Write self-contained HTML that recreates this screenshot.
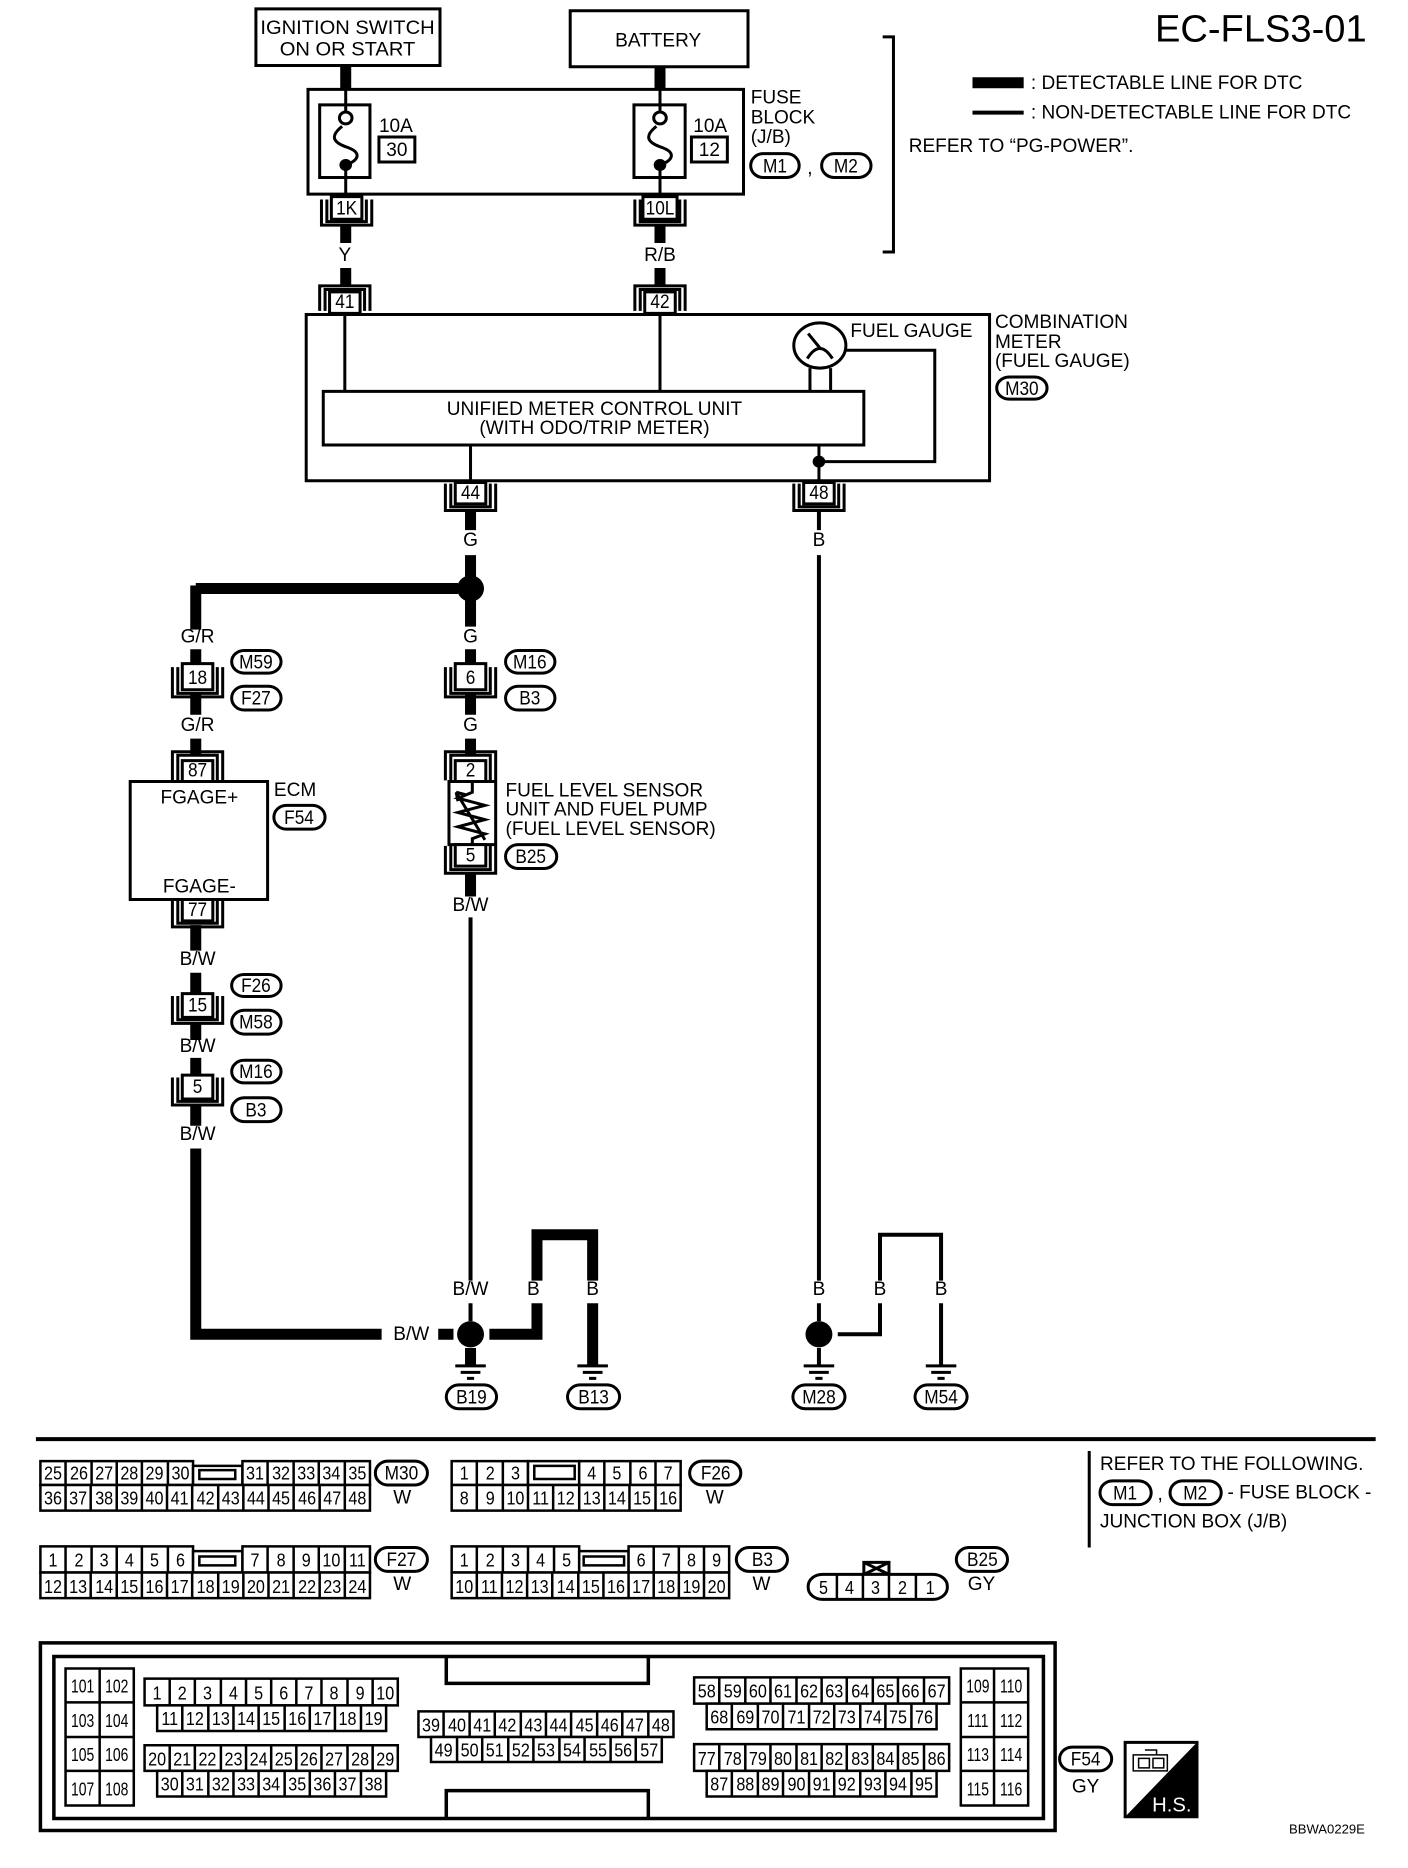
<!DOCTYPE html>
<html><head><meta charset="utf-8"><style>
html,body{margin:0;padding:0;background:#fff;width:1408px;height:1868px;overflow:hidden}
svg{display:block}
svg *{vector-effect:non-scaling-stroke}
.l{fill:none;stroke:#000;stroke-width:3}
.k{fill:none;stroke:#000;stroke-width:11}
.t{fill:none;stroke:#000;stroke-width:4}
.b{fill:#fff;stroke:#000;stroke-width:3}
.g{fill:#fff;stroke:#000;stroke-width:2.5}
.d{fill:#000}
text{font-family:"Liberation Sans",sans-serif;font-size:32px;fill:#000}
.n{font-size:31px}
.m{text-anchor:middle}.e{text-anchor:end}
</style></head><body>
<!-- TOP HALF -->
<svg width="1408" height="934" viewBox="0 0 1568 1568" preserveAspectRatio="none">
<rect class="b" x="285" y="15" width="205" height="95"/>
<text class="m" transform="translate(387 57) scale(.7 1)">IGNITION SWITCH</text>
<text class="m" transform="translate(387 93) scale(.7 1)">ON OR START</text>
<rect class="b" x="635" y="18" width="198" height="94"/>
<text class="m" transform="translate(733 78) scale(.663 1)">BATTERY</text>
<path class="k" d="M385 110V150M735 112V150"/>
<rect class="b" x="343" y="150" width="485" height="176"/>
<rect class="b" x="356" y="176" width="56" height="122"/>
<rect class="b" x="706" y="176" width="57" height="122"/>
<path class="l" d="M385 150V188M385 276V332M735 150V188M735 276V332"/>
<path class="l" d="M381 212C366 230 372 240 388 248C402 256 400 268 387 276M731 212C716 230 722 240 738 248C752 256 750 268 737 276"/>
<ellipse class="b" cx="385" cy="198" rx="7" ry="10"/><ellipse class="b" cx="735" cy="198" rx="7" ry="10"/>
<ellipse class="d" cx="385" cy="277" rx="7" ry="10"/><ellipse class="d" cx="735" cy="277" rx="7" ry="10"/>
<text transform="translate(422 222) scale(.663 1)">10A</text>
<rect class="b" x="422" y="230" width="40" height="42"/>
<text class="m" transform="translate(442 262) scale(.663 1)">30</text>
<text transform="translate(772 222) scale(.663 1)">10A</text>
<rect class="b" x="770" y="230" width="40" height="42"/>
<text class="m" transform="translate(790 262) scale(.663 1)">12</text>
<text transform="translate(836 174) scale(.663 1)">FUSE</text>
<text transform="translate(836 207) scale(.663 1)">BLOCK</text>
<text transform="translate(836 240) scale(.663 1)">(J/B)</text>
<rect class="b" x="836" y="258" width="54" height="40" rx="14" ry="20"/>
<text class="m" transform="translate(863 290) scale(.6 1)">M1</text>
<text transform="translate(899 292) scale(.663 1)">,</text>
<rect class="b" x="915" y="258" width="55" height="40" rx="14" ry="20"/>
<text class="m" transform="translate(942 290) scale(.6 1)">M2</text>
<path class="l" d="M983 62H995V423H983"/>
<text class="e" style="font-size:64px" transform="translate(1522 70) scale(.663 1)">EC-FLS3-01</text>
<path class="k" d="M1083 139H1140"/>
<text transform="translate(1148 149) scale(.663 1)">: DETECTABLE LINE FOR DTC</text>
<path class="t" d="M1083 189H1140"/>
<text transform="translate(1148 199) scale(.663 1)">: NON-DETECTABLE LINE FOR DTC</text>
<text transform="translate(1012 255) scale(.663 1)">REFER TO “PG-POWER”.</text>
<!-- 1K / 10L -->
<rect class="b" x="369" y="330" width="34" height="38"/><path class="l" d="M358 335V378H414V335M364 335V372H408V335"/>
<text class="m" transform="translate(386 360) scale(.6 1)">1K</text>
<rect class="b" x="716" y="330" width="38" height="38"/><path class="l" d="M707 335V378H763V335M713 335V372H757V335"/>
<text class="m" transform="translate(735 360) scale(.6 1)">10L</text>
<path class="k" d="M385 378V408M385 450V480M735 378V408M735 450V480"/>
<text class="m" transform="translate(384 438) scale(.663 1)">Y</text>
<text class="m" transform="translate(735 438) scale(.663 1)">R/B</text>
<!-- 41 / 42 -->
<rect class="b" x="367" y="490" width="34" height="36"/><path class="l" d="M356 522V480H412V522M362 522V486H406V522"/>
<text class="m" transform="translate(384 517) scale(.6 1)">41</text>
<rect class="b" x="718" y="490" width="34" height="36"/><path class="l" d="M707 522V480H763V522M713 522V486H757V522"/>
<text class="m" transform="translate(735 517) scale(.6 1)">42</text>
<!-- meter -->
<rect class="l" x="341" y="528" width="761" height="279"/>
<path class="l" d="M384 528V657M735 528V657M524 747V807M912 747V807M902 618V657M925 618V657M941 588H1041V775H912"/>
<rect class="b" x="360" y="657" width="602" height="90"/>
<text class="m" transform="translate(662 697) scale(.663 1)">UNIFIED METER CONTROL UNIT</text>
<text class="m" transform="translate(662 729) scale(.663 1)">(WITH ODO/TRIP METER)</text>
<ellipse class="b" cx="913" cy="580" rx="29" ry="38"/>
<path class="l" d="M899 602Q913 568 927 602M913 584L900 560"/>
<ellipse class="d" cx="912" cy="775" rx="7" ry="10"/>
<text transform="translate(947 566) scale(.663 1)">FUEL GAUGE</text>
<text transform="translate(1108 551) scale(.663 1)">COMBINATION</text>
<text transform="translate(1108 584) scale(.663 1)">METER</text>
<text transform="translate(1108 616) scale(.663 1)">(FUEL GAUGE)</text>
<rect class="b" x="1110" y="633" width="56" height="37" rx="14" ry="18"/>
<text class="m" transform="translate(1138 663) scale(.6 1)">M30</text>
<!-- 44 / 48 -->
<rect class="b" x="507" y="810" width="34" height="36"/><path class="l" d="M496 812V857H552V812M502 812V851H546V812"/>
<text class="m" transform="translate(524 838) scale(.6 1)">44</text>
<rect class="b" x="895" y="810" width="34" height="36"/><path class="l" d="M884 812V857H940V812M890 812V851H934V812"/>
<text class="m" transform="translate(912 838) scale(.6 1)">48</text>
<path class="k" d="M524 857V890M524 932V972M524 1004V1052M218 988H510M218 983V1057M218 1090V1114M218 1166V1200M218 1240V1270M524 1090V1114M524 1166V1200M524 1240V1270M524 1466V1505M218 1553V1568"/>
<path class="t" d="M912 857V890M912 932V1568M524 1540V1568"/>
<text class="m" transform="translate(524 917) scale(.663 1)">G</text>
<text class="m" transform="translate(912 917) scale(.663 1)">B</text>
<ellipse class="d" cx="524" cy="988" rx="15" ry="22"/>
<text class="m" transform="translate(220 1079) scale(.663 1)">G/R</text>
<text class="m" transform="translate(524 1079) scale(.663 1)">G</text>
<text class="m" transform="translate(220 1227) scale(.663 1)">G/R</text>
<text class="m" transform="translate(524 1227) scale(.663 1)">G</text>
<!-- 18 / 6 -->
<rect class="b" x="203" y="1114" width="34" height="44"/><path class="l" d="M192 1120V1170H248V1120M198 1120V1164H242V1120"/>
<text class="m" transform="translate(220 1148) scale(.6 1)">18</text>
<rect class="b" x="507" y="1114" width="34" height="44"/><path class="l" d="M496 1120V1170H552V1120M502 1120V1164H546V1120"/>
<text class="m" transform="translate(524 1148) scale(.6 1)">6</text>
<rect class="b" x="258" y="1092" width="55" height="38" rx="14" ry="19"/><text class="m" transform="translate(285 1122) scale(.6 1)">M59</text>
<rect class="b" x="258" y="1152" width="55" height="40" rx="14" ry="20"/><text class="m" transform="translate(285 1183) scale(.6 1)">F27</text>
<rect class="b" x="563" y="1092" width="55" height="38" rx="14" ry="19"/><text class="m" transform="translate(590 1122) scale(.6 1)">M16</text>
<rect class="b" x="563" y="1152" width="55" height="40" rx="14" ry="20"/><text class="m" transform="translate(590 1183) scale(.6 1)">B3</text>
<!-- 87 ECM -->
<rect class="b" x="203" y="1277" width="34" height="35"/><path class="l" d="M192 1310V1262H248V1310M198 1310V1268H242V1310"/>
<text class="m" transform="translate(220 1304) scale(.6 1)">87</text>
<rect class="b" x="145" y="1312" width="153" height="198"/>
<text class="m" transform="translate(222 1349) scale(.663 1)">FGAGE+</text>
<text class="m" transform="translate(222 1498) scale(.663 1)">FGAGE-</text>
<text transform="translate(305 1336) scale(.663 1)">ECM</text>
<rect class="b" x="305" y="1352" width="57" height="40" rx="14" ry="20"/><text class="m" transform="translate(333 1383) scale(.6 1)">F54</text>
<rect class="b" x="203" y="1510" width="34" height="36"/><path class="l" d="M192 1512V1556H248V1512M198 1512V1550H242V1512"/>
<text class="m" transform="translate(220 1538) scale(.6 1)">77</text>
<!-- sensor -->
<rect class="b" x="507" y="1277" width="34" height="35"/><path class="l" d="M496 1310V1262H552V1310M502 1310V1268H546V1310"/>
<text class="m" transform="translate(524 1304) scale(.6 1)">2</text>
<rect class="b" x="500" y="1312" width="52" height="106"/>
<path class="l" d="M526 1312V1330L510 1340L540 1352L510 1364L540 1376L510 1388L540 1400L526 1408V1418M508 1330L540 1410M508 1330L510 1345M508 1330L518 1334"/>
<rect class="b" x="507" y="1418" width="34" height="36"/><path class="l" d="M496 1420V1466H552V1420M502 1420V1460H546V1420"/>
<text class="m" transform="translate(524 1446) scale(.6 1)">5</text>
<rect class="b" x="563" y="1418" width="57" height="40" rx="14" ry="20"/><text class="m" transform="translate(591 1449) scale(.6 1)">B25</text>
<text transform="translate(563 1337) scale(.663 1)">FUEL LEVEL SENSOR</text>
<text transform="translate(563 1369) scale(.663 1)">UNIT AND FUEL PUMP</text>
<text transform="translate(563 1402) scale(.663 1)">(FUEL LEVEL SENSOR)</text>
<text class="m" transform="translate(524 1529) scale(.663 1)">B/W</text>
</svg>
<!-- BOTTOM HALF -->
<svg width="1408" height="934" viewBox="0 0 1568 1568" preserveAspectRatio="none">
<path class="k" d="M218 0V28M218 65V100M218 150V178M218 208V237M218 287V322M218 360V672H425M488 672H505M545 672H598V620M598 582V505H660V582M660 620V725M524 695V725"/>
<path class="t" d="M524 0V582M524 620V650M912 0V582M912 620V650M933 672H980V620M980 582V505H1048V582M1048 620V725M912 695V725"/>
<text class="m" transform="translate(220 52) scale(.663 1)">B/W</text>
<text class="m" transform="translate(220 198) scale(.663 1)">B/W</text>
<text class="m" transform="translate(220 346) scale(.663 1)">B/W</text>
<rect class="b" x="203" y="100" width="34" height="40"/><path class="l" d="M192 104V150H248V104M198 104V144H242V104"/>
<text class="m" transform="translate(220 130) scale(.6 1)">15</text>
<rect class="b" x="203" y="237" width="34" height="40"/><path class="l" d="M192 241V287H248V241M198 241V281H242V241"/>
<text class="m" transform="translate(220 267) scale(.6 1)">5</text>
<rect class="b" x="258" y="68" width="55" height="37" rx="14" ry="18"/><text class="m" transform="translate(285 97) scale(.6 1)">F26</text>
<rect class="b" x="258" y="128" width="55" height="40" rx="14" ry="20"/><text class="m" transform="translate(285 159) scale(.6 1)">M58</text>
<rect class="b" x="258" y="212" width="55" height="38" rx="14" ry="19"/><text class="m" transform="translate(285 242) scale(.6 1)">M16</text>
<rect class="b" x="258" y="275" width="55" height="40" rx="14" ry="20"/><text class="m" transform="translate(285 306) scale(.6 1)">B3</text>
<text class="m" transform="translate(458 682) scale(.663 1)">B/W</text>
<text class="m" transform="translate(524 606) scale(.663 1)">B/W</text>
<text class="m" transform="translate(594 606) scale(.663 1)">B</text>
<text class="m" transform="translate(660 606) scale(.663 1)">B</text>
<text class="m" transform="translate(912 606) scale(.663 1)">B</text>
<text class="m" transform="translate(980 606) scale(.663 1)">B</text>
<text class="m" transform="translate(1048 606) scale(.663 1)">B</text>
<ellipse class="d" cx="524" cy="672" rx="15" ry="22"/>
<ellipse class="d" cx="912" cy="672" rx="15" ry="22"/>
<path class="l" d="M507 725H541M513 736H535M520 746H528M643 725H677M649 736H671M656 746H664M895 725H929M901 736H923M908 746H916M1031 725H1065M1037 736H1059M1044 746H1052"/>
<rect class="b" x="497" y="757" width="56" height="40" rx="14" ry="20"/><text class="m" transform="translate(525 788) scale(.6 1)">B19</text>
<rect class="b" x="632" y="757" width="58" height="40" rx="14" ry="20"/><text class="m" transform="translate(661 788) scale(.6 1)">B13</text>
<rect class="b" x="883" y="757" width="58" height="40" rx="14" ry="20"/><text class="m" transform="translate(912 788) scale(.6 1)">M28</text>
<rect class="b" x="1019" y="757" width="58" height="40" rx="14" ry="20"/><text class="m" transform="translate(1048 788) scale(.6 1)">M54</text>
<path class="t" d="M40 848H1532"/>
<path class="l" d="M1213 868V1030"/>
<text transform="translate(1225 900) scale(.663 1)">REFER TO THE FOLLOWING.</text>
<rect class="b" x="1225" y="918" width="57" height="40" rx="14" ry="20"/><text class="m" transform="translate(1253 949) scale(.6 1)">M1</text>
<text transform="translate(1289 950) scale(.663 1)">,</text>
<rect class="b" x="1303" y="918" width="57" height="40" rx="14" ry="20"/><text class="m" transform="translate(1331 949) scale(.6 1)">M2</text>
<text transform="translate(1367 948) scale(.663 1)">- FUSE BLOCK -</text>
<text transform="translate(1225 996) scale(.663 1)">JUNCTION BOX (J/B)</text>
<!-- M30 -->
<g class="g"><rect x="45" y="885" width="170" height="40"/><rect x="215" y="893" width="55" height="32"/><rect x="270" y="885" width="142" height="40"/><rect x="45" y="925" width="367" height="43"/><rect x="222" y="900" width="40" height="15"/></g>
<path class="l" style="stroke-width:2.5" d="M73 885V925M102 885V925M130 885V925M158 885V925M187 885V925M298 885V925M327 885V925M355 885V925M384 885V925M73 925V968M101 925V968M130 925V968M158 925V968M186 925V968M214 925V968M243 925V968M271 925V968M299 925V968M327 925V968M356 925V968M384 925V968"/>
<text class="m n" transform="translate(59 916) scale(.58 1)">25</text><text class="m n" transform="translate(88 916) scale(.58 1)">26</text><text class="m n" transform="translate(116 916) scale(.58 1)">27</text><text class="m n" transform="translate(144 916) scale(.58 1)">28</text><text class="m n" transform="translate(172 916) scale(.58 1)">29</text><text class="m n" transform="translate(201 916) scale(.58 1)">30</text><text class="m n" transform="translate(284 916) scale(.58 1)">31</text><text class="m n" transform="translate(313 916) scale(.58 1)">32</text><text class="m n" transform="translate(341 916) scale(.58 1)">33</text><text class="m n" transform="translate(369 916) scale(.58 1)">34</text><text class="m n" transform="translate(398 916) scale(.58 1)">35</text>
<text class="m n" transform="translate(59 958) scale(.58 1)">36</text><text class="m n" transform="translate(87 958) scale(.58 1)">37</text><text class="m n" transform="translate(116 958) scale(.58 1)">38</text><text class="m n" transform="translate(144 958) scale(.58 1)">39</text><text class="m n" transform="translate(172 958) scale(.58 1)">40</text><text class="m n" transform="translate(200 958) scale(.58 1)">41</text><text class="m n" transform="translate(229 958) scale(.58 1)">42</text><text class="m n" transform="translate(257 958) scale(.58 1)">43</text><text class="m n" transform="translate(285 958) scale(.58 1)">44</text><text class="m n" transform="translate(313 958) scale(.58 1)">45</text><text class="m n" transform="translate(342 958) scale(.58 1)">46</text><text class="m n" transform="translate(370 958) scale(.58 1)">47</text><text class="m n" transform="translate(398 958) scale(.58 1)">48</text>
<rect class="b" x="418" y="885" width="58" height="40" rx="14" ry="20"/><text class="m" transform="translate(447 916) scale(.6 1)">M30</text>
<text class="m" transform="translate(448 956) scale(.663 1)">W</text>
<!-- F26 -->
<g class="g"><rect x="503" y="885" width="85" height="40"/><rect x="588" y="885" width="57" height="40"/><rect x="645" y="885" width="113" height="40"/><rect x="503" y="925" width="255" height="43"/><rect x="595" y="893" width="45" height="22"/></g>
<path class="l" style="stroke-width:2.5" d="M531 885V925M560 885V925M673 885V925M702 885V925M730 885V925M531 925V968M560 925V968M588 925V968M616 925V968M645 925V968M673 925V968M701 925V968M730 925V968"/>
<text class="m n" transform="translate(517 916) scale(.58 1)">1</text><text class="m n" transform="translate(546 916) scale(.58 1)">2</text><text class="m n" transform="translate(574 916) scale(.58 1)">3</text><text class="m n" transform="translate(659 916) scale(.58 1)">4</text><text class="m n" transform="translate(687 916) scale(.58 1)">5</text><text class="m n" transform="translate(716 916) scale(.58 1)">6</text><text class="m n" transform="translate(744 916) scale(.58 1)">7</text>
<text class="m n" transform="translate(517 958) scale(.58 1)">8</text><text class="m n" transform="translate(546 958) scale(.58 1)">9</text><text class="m n" transform="translate(574 958) scale(.58 1)">10</text><text class="m n" transform="translate(602 958) scale(.58 1)">11</text><text class="m n" transform="translate(630 958) scale(.58 1)">12</text><text class="m n" transform="translate(659 958) scale(.58 1)">13</text><text class="m n" transform="translate(687 958) scale(.58 1)">14</text><text class="m n" transform="translate(715 958) scale(.58 1)">15</text><text class="m n" transform="translate(744 958) scale(.58 1)">16</text>
<rect class="b" x="768" y="885" width="57" height="40" rx="14" ry="20"/><text class="m" transform="translate(797 916) scale(.6 1)">F26</text>
<text class="m" transform="translate(796 956) scale(.663 1)">W</text>
<!-- F27 -->
<g class="g"><rect x="45" y="1028" width="170" height="44"/><rect x="215" y="1036" width="55" height="36"/><rect x="270" y="1028" width="142" height="44"/><rect x="45" y="1072" width="367" height="43"/><rect x="222" y="1045" width="40" height="15"/></g>
<path class="l" style="stroke-width:2.5" d="M73 1028V1072M102 1028V1072M130 1028V1072M158 1028V1072M187 1028V1072M298 1028V1072M327 1028V1072M355 1028V1072M384 1028V1072M73 1072V1115M101 1072V1115M130 1072V1115M158 1072V1115M186 1072V1115M214 1072V1115M243 1072V1115M271 1072V1115M299 1072V1115M327 1072V1115M356 1072V1115M384 1072V1115"/>
<text class="m n" transform="translate(59 1062) scale(.58 1)">1</text><text class="m n" transform="translate(88 1062) scale(.58 1)">2</text><text class="m n" transform="translate(116 1062) scale(.58 1)">3</text><text class="m n" transform="translate(144 1062) scale(.58 1)">4</text><text class="m n" transform="translate(172 1062) scale(.58 1)">5</text><text class="m n" transform="translate(201 1062) scale(.58 1)">6</text><text class="m n" transform="translate(284 1062) scale(.58 1)">7</text><text class="m n" transform="translate(313 1062) scale(.58 1)">8</text><text class="m n" transform="translate(341 1062) scale(.58 1)">9</text><text class="m n" transform="translate(369 1062) scale(.58 1)">10</text><text class="m n" transform="translate(398 1062) scale(.58 1)">11</text>
<text class="m n" transform="translate(59 1106) scale(.58 1)">12</text><text class="m n" transform="translate(87 1106) scale(.58 1)">13</text><text class="m n" transform="translate(116 1106) scale(.58 1)">14</text><text class="m n" transform="translate(144 1106) scale(.58 1)">15</text><text class="m n" transform="translate(172 1106) scale(.58 1)">16</text><text class="m n" transform="translate(200 1106) scale(.58 1)">17</text><text class="m n" transform="translate(229 1106) scale(.58 1)">18</text><text class="m n" transform="translate(257 1106) scale(.58 1)">19</text><text class="m n" transform="translate(285 1106) scale(.58 1)">20</text><text class="m n" transform="translate(313 1106) scale(.58 1)">21</text><text class="m n" transform="translate(342 1106) scale(.58 1)">22</text><text class="m n" transform="translate(370 1106) scale(.58 1)">23</text><text class="m n" transform="translate(398 1106) scale(.58 1)">24</text>
<rect class="b" x="418" y="1030" width="58" height="40" rx="14" ry="20"/><text class="m" transform="translate(447 1061) scale(.6 1)">F27</text>
<text class="m" transform="translate(448 1101) scale(.663 1)">W</text>
<!-- B3 -->
<g class="g"><rect x="503" y="1028" width="142" height="44"/><rect x="645" y="1036" width="55" height="36"/><rect x="700" y="1028" width="112" height="44"/><rect x="503" y="1072" width="309" height="43"/><rect x="650" y="1045" width="45" height="15"/></g>
<path class="l" style="stroke-width:2.5" d="M531 1028V1072M560 1028V1072M588 1028V1072M617 1028V1072M728 1028V1072M756 1028V1072M784 1028V1072M531 1072V1115M559 1072V1115M587 1072V1115M615 1072V1115M644 1072V1115M672 1072V1115M700 1072V1115M728 1072V1115M756 1072V1115M784 1072V1115"/>
<text class="m n" transform="translate(517 1062) scale(.58 1)">1</text><text class="m n" transform="translate(546 1062) scale(.58 1)">2</text><text class="m n" transform="translate(574 1062) scale(.58 1)">3</text><text class="m n" transform="translate(602 1062) scale(.58 1)">4</text><text class="m n" transform="translate(631 1062) scale(.58 1)">5</text><text class="m n" transform="translate(714 1062) scale(.58 1)">6</text><text class="m n" transform="translate(742 1062) scale(.58 1)">7</text><text class="m n" transform="translate(770 1062) scale(.58 1)">8</text><text class="m n" transform="translate(798 1062) scale(.58 1)">9</text>
<text class="m n" transform="translate(517 1106) scale(.58 1)">10</text><text class="m n" transform="translate(545 1106) scale(.58 1)">11</text><text class="m n" transform="translate(573 1106) scale(.58 1)">12</text><text class="m n" transform="translate(601 1106) scale(.58 1)">13</text><text class="m n" transform="translate(630 1106) scale(.58 1)">14</text><text class="m n" transform="translate(658 1106) scale(.58 1)">15</text><text class="m n" transform="translate(686 1106) scale(.58 1)">16</text><text class="m n" transform="translate(714 1106) scale(.58 1)">17</text><text class="m n" transform="translate(742 1106) scale(.58 1)">18</text><text class="m n" transform="translate(770 1106) scale(.58 1)">19</text><text class="m n" transform="translate(798 1106) scale(.58 1)">20</text>
<rect class="b" x="820" y="1030" width="57" height="40" rx="14" ry="20"/><text class="m" transform="translate(849 1061) scale(.6 1)">B3</text>
<text class="m" transform="translate(848 1101) scale(.663 1)">W</text>
<!-- B25 -->
<rect class="b" x="962" y="1055" width="28" height="20"/><path class="l" d="M962 1055L990 1075M990 1055L962 1075"/>
<rect class="b" x="900" y="1075" width="155" height="42" rx="16" ry="20"/>
<path class="l" style="stroke-width:2.5" d="M932 1075V1117M961 1075V1117M990 1075V1117M1020 1075V1117"/>
<text class="m n" transform="translate(917 1108) scale(.58 1)">5</text><text class="m n" transform="translate(946 1108) scale(.58 1)">4</text><text class="m n" transform="translate(975 1108) scale(.58 1)">3</text><text class="m n" transform="translate(1005 1108) scale(.58 1)">2</text><text class="m n" transform="translate(1036 1108) scale(.58 1)">1</text>
<rect class="b" x="1065" y="1030" width="57" height="40" rx="14" ry="20"/><text class="m" transform="translate(1094 1061) scale(.6 1)">B25</text>
<text class="m" transform="translate(1093 1101) scale(.663 1)">GY</text>
<!-- F54 -->
<rect class="l" x="45" y="1190" width="1130" height="315" style="stroke-width:3.5"/>
<rect class="l" x="60" y="1213" width="1102" height="272" style="stroke-width:3.5"/>
<path class="l" style="stroke-width:3.5" d="M497 1213V1258H722V1213M497 1485V1438H722V1485"/>
<g class="g"><rect x="73" y="1233" width="76" height="230"/><rect x="1070" y="1233" width="75" height="230"/>
<rect x="161" y="1250" width="282" height="45"/><rect x="175" y="1295" width="255" height="43"/>
<rect x="161" y="1362" width="282" height="43"/><rect x="175" y="1405" width="255" height="43"/>
<rect x="466" y="1305" width="284" height="43"/><rect x="480" y="1348" width="257" height="42"/>
<rect x="773" y="1248" width="284" height="44"/><rect x="787" y="1292" width="256" height="43"/>
<rect x="773" y="1360" width="284" height="45"/><rect x="787" y="1405" width="256" height="43"/></g>
<path class="l" style="stroke-width:2.5" d="M111 1233V1463M73 1290H149M73 1348H149M73 1405H149M1107 1233V1463M1070 1290H1145M1070 1348H1145M1070 1405H1145
M189 1250V1295M217 1250V1295M246 1250V1295M274 1250V1295M302 1250V1295M330 1250V1295M358 1250V1295M387 1250V1295M415 1250V1295
M203 1295V1338M232 1295V1338M260 1295V1338M288 1295V1338M317 1295V1338M345 1295V1338M373 1295V1338M402 1295V1338
M189 1362V1405M217 1362V1405M246 1362V1405M274 1362V1405M302 1362V1405M330 1362V1405M358 1362V1405M387 1362V1405M415 1362V1405
M203 1405V1448M232 1405V1448M260 1405V1448M288 1405V1448M317 1405V1448M345 1405V1448M373 1405V1448M402 1405V1448
M494 1305V1348M523 1305V1348M551 1305V1348M580 1305V1348M608 1305V1348M636 1305V1348M665 1305V1348M693 1305V1348M722 1305V1348
M509 1348V1390M537 1348V1390M566 1348V1390M594 1348V1390M623 1348V1390M651 1348V1390M680 1348V1390M708 1348V1390
M801 1248V1292M830 1248V1292M858 1248V1292M887 1248V1292M915 1248V1292M943 1248V1292M972 1248V1292M1000 1248V1292M1029 1248V1292
M815 1292V1335M844 1292V1335M872 1292V1335M901 1292V1335M929 1292V1335M958 1292V1335M986 1292V1335M1015 1292V1335
M801 1360V1405M830 1360V1405M858 1360V1405M887 1360V1405M915 1360V1405M943 1360V1405M972 1360V1405M1000 1360V1405M1029 1360V1405
M815 1405V1448M844 1405V1448M872 1405V1448M901 1405V1448M929 1405V1448M958 1405V1448M986 1405V1448M1015 1405V1448"/>
<text class="m n" transform="translate(92 1273) scale(.5 1)">101</text><text class="m n" transform="translate(130 1273) scale(.5 1)">102</text>
<text class="m n" transform="translate(92 1331) scale(.5 1)">103</text><text class="m n" transform="translate(130 1331) scale(.5 1)">104</text>
<text class="m n" transform="translate(92 1388) scale(.5 1)">105</text><text class="m n" transform="translate(130 1388) scale(.5 1)">106</text>
<text class="m n" transform="translate(92 1446) scale(.5 1)">107</text><text class="m n" transform="translate(130 1446) scale(.5 1)">108</text>
<text class="m n" transform="translate(1089 1273) scale(.5 1)">109</text><text class="m n" transform="translate(1126 1273) scale(.5 1)">110</text>
<text class="m n" transform="translate(1089 1331) scale(.5 1)">111</text><text class="m n" transform="translate(1126 1331) scale(.5 1)">112</text>
<text class="m n" transform="translate(1089 1388) scale(.5 1)">113</text><text class="m n" transform="translate(1126 1388) scale(.5 1)">114</text>
<text class="m n" transform="translate(1089 1446) scale(.5 1)">115</text><text class="m n" transform="translate(1126 1446) scale(.5 1)">116</text>
<text class="m n" transform="translate(175 1285) scale(.58 1)">1</text><text class="m n" transform="translate(203 1285) scale(.58 1)">2</text><text class="m n" transform="translate(231 1285) scale(.58 1)">3</text><text class="m n" transform="translate(260 1285) scale(.58 1)">4</text><text class="m n" transform="translate(288 1285) scale(.58 1)">5</text><text class="m n" transform="translate(316 1285) scale(.58 1)">6</text><text class="m n" transform="translate(344 1285) scale(.58 1)">7</text><text class="m n" transform="translate(372 1285) scale(.58 1)">8</text><text class="m n" transform="translate(401 1285) scale(.58 1)">9</text><text class="m n" transform="translate(429 1285) scale(.58 1)">10</text>
<text class="m n" transform="translate(189 1328) scale(.58 1)">11</text><text class="m n" transform="translate(217 1328) scale(.58 1)">12</text><text class="m n" transform="translate(246 1328) scale(.58 1)">13</text><text class="m n" transform="translate(274 1328) scale(.58 1)">14</text><text class="m n" transform="translate(302 1328) scale(.58 1)">15</text><text class="m n" transform="translate(331 1328) scale(.58 1)">16</text><text class="m n" transform="translate(359 1328) scale(.58 1)">17</text><text class="m n" transform="translate(387 1328) scale(.58 1)">18</text><text class="m n" transform="translate(416 1328) scale(.58 1)">19</text>
<text class="m n" transform="translate(175 1396) scale(.58 1)">20</text><text class="m n" transform="translate(203 1396) scale(.58 1)">21</text><text class="m n" transform="translate(231 1396) scale(.58 1)">22</text><text class="m n" transform="translate(260 1396) scale(.58 1)">23</text><text class="m n" transform="translate(288 1396) scale(.58 1)">24</text><text class="m n" transform="translate(316 1396) scale(.58 1)">25</text><text class="m n" transform="translate(344 1396) scale(.58 1)">26</text><text class="m n" transform="translate(372 1396) scale(.58 1)">27</text><text class="m n" transform="translate(401 1396) scale(.58 1)">28</text><text class="m n" transform="translate(429 1396) scale(.58 1)">29</text>
<text class="m n" transform="translate(189 1438) scale(.58 1)">30</text><text class="m n" transform="translate(217 1438) scale(.58 1)">31</text><text class="m n" transform="translate(246 1438) scale(.58 1)">32</text><text class="m n" transform="translate(274 1438) scale(.58 1)">33</text><text class="m n" transform="translate(302 1438) scale(.58 1)">34</text><text class="m n" transform="translate(331 1438) scale(.58 1)">35</text><text class="m n" transform="translate(359 1438) scale(.58 1)">36</text><text class="m n" transform="translate(387 1438) scale(.58 1)">37</text><text class="m n" transform="translate(416 1438) scale(.58 1)">38</text>
<text class="m n" transform="translate(480 1339) scale(.58 1)">39</text><text class="m n" transform="translate(509 1339) scale(.58 1)">40</text><text class="m n" transform="translate(537 1339) scale(.58 1)">41</text><text class="m n" transform="translate(565 1339) scale(.58 1)">42</text><text class="m n" transform="translate(594 1339) scale(.58 1)">43</text><text class="m n" transform="translate(622 1339) scale(.58 1)">44</text><text class="m n" transform="translate(651 1339) scale(.58 1)">45</text><text class="m n" transform="translate(679 1339) scale(.58 1)">46</text><text class="m n" transform="translate(707 1339) scale(.58 1)">47</text><text class="m n" transform="translate(736 1339) scale(.58 1)">48</text>
<text class="m n" transform="translate(494 1381) scale(.58 1)">49</text><text class="m n" transform="translate(523 1381) scale(.58 1)">50</text><text class="m n" transform="translate(551 1381) scale(.58 1)">51</text><text class="m n" transform="translate(580 1381) scale(.58 1)">52</text><text class="m n" transform="translate(608 1381) scale(.58 1)">53</text><text class="m n" transform="translate(637 1381) scale(.58 1)">54</text><text class="m n" transform="translate(666 1381) scale(.58 1)">55</text><text class="m n" transform="translate(694 1381) scale(.58 1)">56</text><text class="m n" transform="translate(723 1381) scale(.58 1)">57</text>
<text class="m n" transform="translate(787 1282) scale(.58 1)">58</text><text class="m n" transform="translate(816 1282) scale(.58 1)">59</text><text class="m n" transform="translate(844 1282) scale(.58 1)">60</text><text class="m n" transform="translate(872 1282) scale(.58 1)">61</text><text class="m n" transform="translate(901 1282) scale(.58 1)">62</text><text class="m n" transform="translate(929 1282) scale(.58 1)">63</text><text class="m n" transform="translate(958 1282) scale(.58 1)">64</text><text class="m n" transform="translate(986 1282) scale(.58 1)">65</text><text class="m n" transform="translate(1014 1282) scale(.58 1)">66</text><text class="m n" transform="translate(1043 1282) scale(.58 1)">67</text>
<text class="m n" transform="translate(801 1325) scale(.58 1)">68</text><text class="m n" transform="translate(830 1325) scale(.58 1)">69</text><text class="m n" transform="translate(858 1325) scale(.58 1)">70</text><text class="m n" transform="translate(887 1325) scale(.58 1)">71</text><text class="m n" transform="translate(915 1325) scale(.58 1)">72</text><text class="m n" transform="translate(943 1325) scale(.58 1)">73</text><text class="m n" transform="translate(972 1325) scale(.58 1)">74</text><text class="m n" transform="translate(1000 1325) scale(.58 1)">75</text><text class="m n" transform="translate(1029 1325) scale(.58 1)">76</text>
<text class="m n" transform="translate(787 1395) scale(.58 1)">77</text><text class="m n" transform="translate(816 1395) scale(.58 1)">78</text><text class="m n" transform="translate(844 1395) scale(.58 1)">79</text><text class="m n" transform="translate(872 1395) scale(.58 1)">80</text><text class="m n" transform="translate(901 1395) scale(.58 1)">81</text><text class="m n" transform="translate(929 1395) scale(.58 1)">82</text><text class="m n" transform="translate(958 1395) scale(.58 1)">83</text><text class="m n" transform="translate(986 1395) scale(.58 1)">84</text><text class="m n" transform="translate(1014 1395) scale(.58 1)">85</text><text class="m n" transform="translate(1043 1395) scale(.58 1)">86</text>
<text class="m n" transform="translate(801 1438) scale(.58 1)">87</text><text class="m n" transform="translate(830 1438) scale(.58 1)">88</text><text class="m n" transform="translate(858 1438) scale(.58 1)">89</text><text class="m n" transform="translate(887 1438) scale(.58 1)">90</text><text class="m n" transform="translate(915 1438) scale(.58 1)">91</text><text class="m n" transform="translate(943 1438) scale(.58 1)">92</text><text class="m n" transform="translate(972 1438) scale(.58 1)">93</text><text class="m n" transform="translate(1000 1438) scale(.58 1)">94</text><text class="m n" transform="translate(1029 1438) scale(.58 1)">95</text>
<rect class="b" x="1180" y="1365" width="58" height="40" rx="14" ry="20"/><text class="m" transform="translate(1209 1396) scale(.6 1)">F54</text>
<text class="m" transform="translate(1209 1441) scale(.663 1)">GY</text>
<!-- H.S. -->
<rect class="b" x="1253" y="1357" width="80" height="125"/>
<path class="d" d="M1333 1357V1482H1253Z"/>
<path class="l" style="stroke-width:1.5" d="M1262 1378H1300V1405H1262ZM1268 1384H1280V1400H1268ZM1284 1384H1296V1400H1284ZM1275 1370H1288V1378"/>
<text class="m" style="fill:#fff;font-size:34px" transform="translate(1305 1473) scale(.663 1)">H.S.</text>
<text class="e" style="font-size:22px" transform="translate(1520 1510) scale(.663 1)">BBWA0229E</text>
</svg>
</body></html>
